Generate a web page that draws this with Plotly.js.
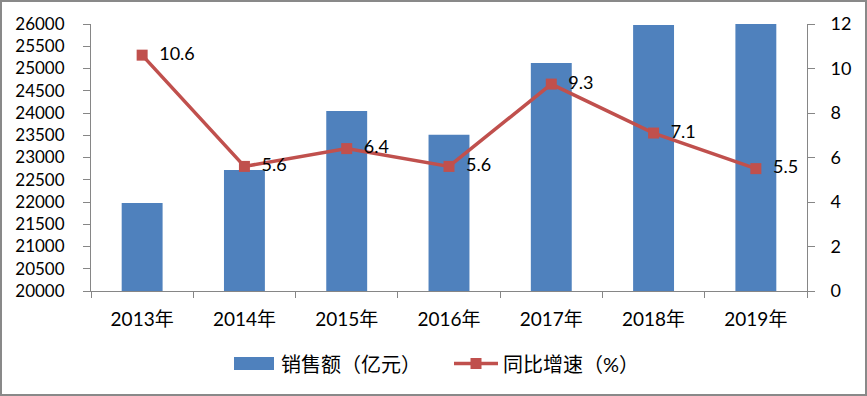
<!DOCTYPE html>
<html>
<head>
<meta charset="utf-8">
<script src="https://cdn.plot.ly/plotly-3.0.1.min.js"></script>
<style>
html,body{margin:0;padding:0;background:#fff;}
#wrap{position:relative;width:867px;height:396px;}
#chart{width:867px;height:396px;}
#frame{position:absolute;left:0;top:0;width:867px;height:396px;box-sizing:border-box;border:2px solid #898989;pointer-events:none;}
</style>
</head>
<body>
<div id="wrap"><div id="chart"></div><div id="frame"></div></div>
<script>
const years = ['2013年','2014年','2015年','2016年','2017年','2018年','2019年'];
const sales = [21980, 22720, 24045, 23510, 25125, 25980, 26010];
const growth = [10.6, 5.6, 6.4, 5.6, 9.3, 7.1, 5.5];
const salesName = '销售额（亿元）';
const growthName = '同比增速（%）';

const FAM = "Lato, 'Noto Sans CJK SC', sans-serif";
const font = {family: FAM, size: 18, color: '#000'};
const fontY = {family: FAM, size: 17, color: '#000'};
const fontX = {family: FAM, size: 19, color: '#000'};
const fontLeg = {family: FAM, size: 20, color: '#000'};
const barColor = '#4F81BD';
const lineColor = '#C0504D';

const traces = [
  {
    type: 'bar', x: years, y: sales, name: salesName, showlegend: false,
    marker: {color: barColor}, yaxis: 'y', hoverinfo: 'skip'
  },
  {
    type: 'scatter', mode: 'lines+markers+text', x: years, y: growth, name: growthName,
    showlegend: false, yaxis: 'y2', line: {color: lineColor, width: 3.5},
    marker: {symbol: 'square', size: 11, color: lineColor},
    text: growth.map(v => '\u00A0\u00A0' + v.toFixed(1)), textposition: 'middle right',
    textfont: font, cliponaxis: false, hoverinfo: 'skip'
  }
];

// plot area in pixels (for the hand-drawn legend)
const L = 91, R = 807, T = 24, B = 291;
const px = p => (p - L) / (R - L);
const py = p => (B - p) / (B - T);

const legendY = 363.5;
const shapes = [
  {type: 'rect', xref: 'paper', yref: 'paper', x0: px(234), x1: px(274), y0: py(357), y1: py(370),
   fillcolor: barColor, line: {width: 0}},
  {type: 'line', xref: 'paper', yref: 'paper', x0: px(454), x1: px(498), y0: py(legendY), y1: py(legendY),
   line: {color: lineColor, width: 3.5}},
  {type: 'rect', xref: 'paper', yref: 'paper', x0: px(470.5), x1: px(481.5), y0: py(legendY - 5.5), y1: py(legendY + 5.5),
   fillcolor: lineColor, line: {width: 0}}
];
const annotations = [
  {xref: 'paper', yref: 'paper', x: px(279), y: py(legendY), xanchor: 'left', yanchor: 'middle',
   text: salesName, showarrow: false, font: fontLeg},
  {xref: 'paper', yref: 'paper', x: px(501), y: py(legendY), xanchor: 'left', yanchor: 'middle',
   text: growthName, showarrow: false, font: fontLeg}
];

const axisLine = '#868686';
const layout = {
  width: 867, height: 396,
  margin: {l: L, r: 867 - R, t: T, b: 396 - B},
  paper_bgcolor: '#fff', plot_bgcolor: '#fff',
  font: font,
  showlegend: false,
  bargap: 0.6,
  shapes: shapes,
  annotations: annotations,
  xaxis: {
    type: 'category', showline: true, linecolor: axisLine, linewidth: 1,
    ticks: 'outside', tickson: 'boundaries', ticklen: 6, tickcolor: axisLine,
    showgrid: false, ticklabelstandoff: 11, tickfont: fontX
  },
  yaxis: {
    range: [20000, 26000], dtick: 500, tickformat: 'd', showline: true, linecolor: axisLine,
    ticks: 'outside', ticklen: 7, tickcolor: axisLine, showgrid: false,
    zeroline: false, ticklabelstandoff: 15, tickfont: fontY
  },
  yaxis2: {
    range: [0, 12], dtick: 2, overlaying: 'y', side: 'right',
    showline: true, linecolor: axisLine, ticks: 'outside', ticklen: 7,
    tickcolor: axisLine, showgrid: false, zeroline: false,
    ticklabelstandoff: 12, tickfont: font
  }
};

Plotly.newPlot('chart', traces, layout, {displayModeBar: false, staticPlot: true});
</script>
</body>
</html>
